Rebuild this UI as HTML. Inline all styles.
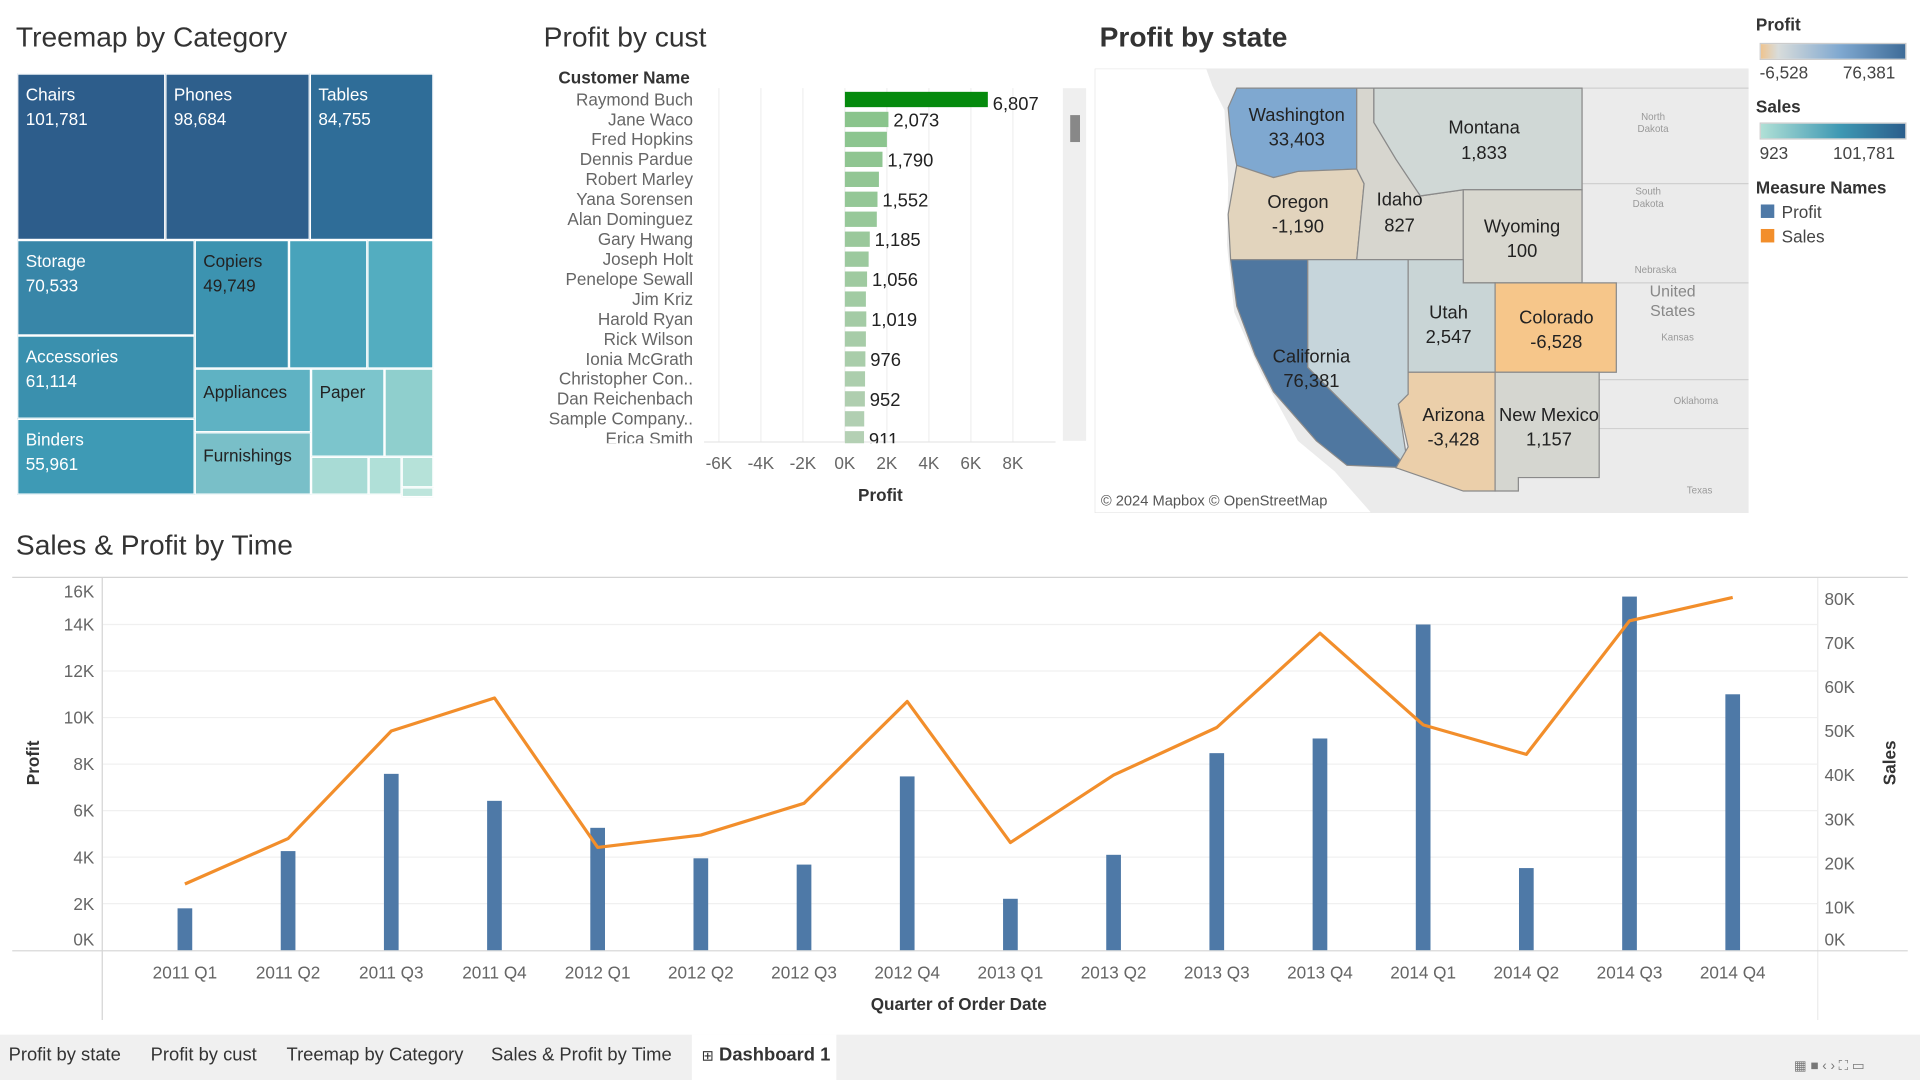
<!DOCTYPE html>
<html><head><meta charset="utf-8">
<style>
html,body{margin:0;padding:0;width:1920px;height:1080px;overflow:hidden;background:#fff}
#wrap{position:absolute;left:0;top:0;width:1568px;height:882px;transform:scale(1.22449);transform-origin:0 0;font-family:"Liberation Sans",sans-serif;color:#333}
.t{position:absolute;white-space:nowrap}
.title{font-size:23px;color:#333}
.tm{position:absolute;box-sizing:border-box;border:1px solid #fff;color:#fff;font-size:14px;line-height:20px;padding:6px 0 0 6px;overflow:hidden}
.tab{position:absolute;top:853px;font-size:15px;color:#333}
</style></head><body>
<div id="wrap">

<div class="t title" style="left:13px;top:17px">Treemap by Category</div>
<div>
<div class="tm" style="left:14px;top:60px;width:121px;height:136px;background:#2d5d8b">Chairs<br>101,781</div>
<div class="tm" style="left:135px;top:60px;width:118px;height:136px;background:#2e5f8c">Phones<br>98,684</div>
<div class="tm" style="left:253px;top:60px;width:101px;height:136px;background:#2f6d98">Tables<br>84,755</div>
<div class="tm" style="left:14px;top:196px;width:145px;height:78px;background:#3886a8">Storage<br>70,533</div>
<div class="tm" style="left:159px;top:196px;width:77px;height:105px;background:#3c93b0;color:#222"><span style="color:#222">Copiers<br>49,749</span></div>
<div class="tm" style="left:236px;top:196px;width:64px;height:105px;background:#48a3bb"></div>
<div class="tm" style="left:300px;top:196px;width:54px;height:105px;background:#53adc0"></div>
<div class="tm" style="left:14px;top:274px;width:145px;height:68px;background:#3a90ae">Accessories<br>61,114</div>
<div class="tm" style="left:14px;top:342px;width:145px;height:62px;background:#3e9ab5">Binders<br>55,961</div>
<div class="tm" style="left:159px;top:301px;width:95px;height:52px;background:#5fb2c3;color:#222;padding-top:8px">Appliances</div>
<div class="tm" style="left:254px;top:301px;width:60px;height:72px;background:#7cc5cc;color:#222;padding-top:8px">Paper</div>
<div class="tm" style="left:314px;top:301px;width:40px;height:72px;background:#8fcfcd"></div>
<div class="tm" style="left:159px;top:353px;width:95px;height:51px;background:#79bfc8;color:#222;padding-top:8px">Furnishings</div>
<div class="tm" style="left:254px;top:373px;width:47px;height:31px;background:#a8dbd5"></div>
<div class="tm" style="left:301px;top:373px;width:27px;height:31px;background:#b0e0d8"></div>
<div class="tm" style="left:328px;top:373px;width:26px;height:25px;background:#b6e2d9"></div>
<div class="tm" style="left:328px;top:398px;width:26px;height:6px;background:#bde5dc"></div>
</div>

<div class="t title" style="left:444px;top:17px">Profit by cust</div>
<div class="t" style="left:456px;top:55px;font-size:14px;font-weight:bold;color:#333">Customer Name</div>
<svg id="cust" style="position:absolute;left:0;top:0" width="900" height="420"></svg>

<div class="t title" style="left:898px;top:17px;font-weight:bold;color:#333">Profit by state</div>
<svg style="position:absolute;left:894px;top:56px" width="534" height="363" viewBox="894 56 534 363">
<rect x="894" y="56" width="534" height="363" fill="#fff" stroke="#e2e2e2"/>
<polygon points="985,56 1428,56 1428,419 1120,419 1090,385 1060,360 1030,305 1008,255 1002,200 1003,150 1000,90 990,70" fill="#ebebeb"/>
<line x1="1292" y1="72" x2="1292" y2="231" stroke="#d0d0d0"/><line x1="1292" y1="150" x2="1428" y2="150" stroke="#d0d0d0"/>
<line x1="1320" y1="231" x2="1428" y2="231" stroke="#d0d0d0"/><line x1="1306" y1="310" x2="1428" y2="310" stroke="#d0d0d0"/>
<line x1="1306" y1="350" x2="1428" y2="350" stroke="#d0d0d0"/><line x1="1292" y1="72" x2="1428" y2="72" stroke="#d0d0d0"/>
<text x="1350" y="98" font-size="8" fill="#999" text-anchor="middle">North</text><text x="1350" y="108" font-size="8" fill="#999" text-anchor="middle">Dakota</text>
<text x="1346" y="159" font-size="8" fill="#999" text-anchor="middle">South</text><text x="1346" y="169" font-size="8" fill="#999" text-anchor="middle">Dakota</text>
<text x="1352" y="223" font-size="8" fill="#999" text-anchor="middle">Nebraska</text><text x="1370" y="278" font-size="8" fill="#999" text-anchor="middle">Kansas</text>
<text x="1385" y="330" font-size="8" fill="#999" text-anchor="middle">Oklahoma</text><text x="1388" y="403" font-size="8" fill="#999" text-anchor="middle">Texas</text>
<text x="1366" y="242" font-size="13" fill="#888" text-anchor="middle">United</text><text x="1366" y="258" font-size="13" fill="#888" text-anchor="middle">States</text>
<g stroke="#8a8a8a" stroke-width="1" font-family="Liberation Sans" font-size="15">
<polygon points="1010,72 1108,72 1108,138 1060,140 1040,145 1010,135 1005,110 1003,88" fill="#7fa8d0"/>
<polygon points="1010,135 1040,145 1060,140 1108,138 1114,150 1108,212 1005,212 1003,175" fill="#e2d4bd"/>
<polygon points="1108,72 1122,72 1122,100 1140,130 1160,160 1195,155 1195,212 1108,212 1114,150 1108,138" fill="#d7d6cf"/>
<polygon points="1122,72 1292,72 1292,155 1195,155 1160,160 1140,130 1122,100" fill="#d0d8d6"/>
<polygon points="1195,155 1292,155 1292,231 1195,231" fill="#d8d7cf"/>
<polygon points="1005,212 1068,212 1068,300 1150,382 1100,380 1075,360 1040,320 1025,290 1010,250" fill="#4f77a0"/>
<polygon points="1068,212 1150,212 1150,322 1142,330 1150,382 1068,300" fill="#c6d5db"/>
<polygon points="1150,212 1195,212 1195,231 1221,231 1221,304 1150,304" fill="#c9d5d6"/>
<polygon points="1221,231 1320,231 1320,304 1221,304" fill="#f6c68a"/>
<polygon points="1150,304 1221,304 1221,401 1195,401 1140,382 1150,365 1142,330 1150,322" fill="#ebcfaa"/>
<polygon points="1221,304 1306,304 1306,390 1240,390 1240,401 1221,401" fill="#d5d6d0"/>
</g>
<g font-family="Liberation Sans" font-size="15" fill="#222" text-anchor="middle">
<text x="1059" y="99">Washington</text><text x="1059" y="119">33,403</text>
<text x="1212" y="109">Montana</text><text x="1212" y="130">1,833</text>
<text x="1060" y="170">Oregon</text><text x="1060" y="190">-1,190</text>
<text x="1143" y="168">Idaho</text><text x="1143" y="189">827</text>
<text x="1243" y="190">Wyoming</text><text x="1243" y="210">100</text>
<text x="1183" y="260">Utah</text><text x="1183" y="280">2,547</text>
<text x="1271" y="264">Colorado</text><text x="1271" y="284">-6,528</text>
<text x="1071" y="296">California</text><text x="1071" y="316">76,381</text>
<text x="1187" y="344">Arizona</text><text x="1187" y="364">-3,428</text>
<text x="1265" y="344">New Mexico</text><text x="1265" y="364">1,157</text>
</g>
<text x="899" y="413" font-family="Liberation Sans" font-size="12" fill="#555">© 2024 Mapbox © OpenStreetMap</text>
</svg>

<div>
<div class="t" style="left:1434px;top:12px;font-size:14px;font-weight:bold">Profit</div>
<div style="position:absolute;left:1437px;top:35px;width:118px;height:12px;background:linear-gradient(90deg,#efc48f,#d8dcdb 12%,#7fa8d0 55%,#3e6c98);border:1px solid #ccc"></div>
<div class="t" style="left:1437px;top:51px;font-size:14px;color:#444">-6,528</div>
<div class="t" style="left:1505px;top:51px;font-size:14px;color:#444">76,381</div>
<div class="t" style="left:1434px;top:79px;font-size:14px;font-weight:bold">Sales</div>
<div style="position:absolute;left:1437px;top:100px;width:118px;height:12px;background:linear-gradient(90deg,#b0e0d6,#3e98b3 55%,#2b5e8c);border:1px solid #ccc"></div>
<div class="t" style="left:1437px;top:117px;font-size:14px;color:#444">923</div>
<div class="t" style="left:1497px;top:117px;font-size:14px;color:#444">101,781</div>
<div class="t" style="left:1434px;top:145px;font-size:14px;font-weight:bold;width:122px;overflow:hidden">Measure Names</div>
<div style="position:absolute;left:1438px;top:167px;width:11px;height:11px;background:#4e79a7"></div>
<div class="t" style="left:1455px;top:165px;font-size:14px;color:#444">Profit</div>
<div style="position:absolute;left:1438px;top:187px;width:11px;height:11px;background:#f28e2b"></div>
<div class="t" style="left:1455px;top:185px;font-size:14px;color:#444">Sales</div>
</div>

<div class="t title" style="left:13px;top:432px">Sales &amp; Profit by Time</div>
<svg id="time" style="position:absolute;left:0;top:0" width="1568" height="845"></svg>

<div style="position:absolute;left:0;top:845px;width:1568px;height:37px;background:#f0f0f0"></div>
<div class="tab" style="left:7px">Profit by state</div>
<div class="tab" style="left:123px">Profit by cust</div>
<div class="tab" style="left:234px">Treemap by Category</div>
<div class="tab" style="left:401px">Sales &amp; Profit by Time</div>
<div style="position:absolute;left:565px;top:845px;width:118px;height:37px;background:#fff"></div>
<div class="tab" style="left:573px;font-weight:bold"><span style="font-weight:normal;font-size:12px">⊞</span> Dashboard 1</div>
<div class="t" style="left:1465px;top:864px;font-size:11px;color:#777">▦ ■ ‹ › ⛶ ▭</div>
</div>

<script>
const NS="http://www.w3.org/2000/svg";
function mk(p,tag,attrs){const e=document.createElementNS(NS,tag);for(const k in attrs)e.setAttribute(k,attrs[k]);p.appendChild(e);return e;}

const custNames=["Raymond Buch","Jane Waco","Fred Hopkins","Dennis Pardue","Robert Marley","Yana Sorensen","Alan Dominguez","Gary Hwang","Joseph Holt","Penelope Sewall","Jim Kriz","Harold Ryan","Rick Wilson","Ionia McGrath","Christopher Con..","Dan Reichenbach","Sample Company..","Erica Smith"];
const custProfit=[6807,2073,2000,1790,1620,1552,1520,1185,1130,1056,1000,1019,1000,976,960,952,920,911];
const custTicks=[-6000,-4000,-2000,0,2000,4000,6000,8000];
const custTickLabels=["-6K","-4K","-2K","0K","2K","4K","6K","8K"];

(function(){
 const s=document.getElementById('cust');
 const x=v=>690+v*0.01715, rowY=i=>81+i*16.3;
 const clip=mk(s,'clipPath',{id:'cc'});mk(clip,'rect',{x:430,y:70,width:440,height:292});
 custTicks.forEach((t,i)=>{
  const l=mk(s,'line',{x1:x(t),x2:x(t),y1:72,y2:361,stroke:'#efefef'});
  
  
  const tx=mk(s,'text',{x:x(t),y:383,'text-anchor':'middle','font-size':14,fill:'#666'});tx.textContent=custTickLabels[i];
  
  
 });
 mk(s,'line',{x1:575,x2:862,y1:361,y2:361,stroke:'#e6e6e6'});
 const g=mk(s,'g',{'clip-path':'url(#cc)'});
 custNames.forEach((n,i)=>{
  const y=rowY(i);
  const t=mk(g,'text',{x:566,y:y+5,'text-anchor':'end','font-size':14,fill:'#666'});t.textContent=n;
  
  
  const v=custProfit[i];
  const frac=Math.min(1,i/17);
  const col=i===0?'#058a0d':`rgb(${Math.round(135+45*frac)},${Math.round(195+13*frac)},${Math.round(138+42*frac)})`;
  const r=mk(g,'rect',{x:Math.min(x(0),x(v)),y:y-6,width:Math.abs(x(v)-x(0)),height:12.5,fill:col});
  
  
  if(i===0||i%2===1){
   const lb=mk(g,'text',{x:x(v)+4,y:y+(i===0?9:6),'font-size':15,fill:'#222'});lb.textContent=v.toLocaleString('en-US');
   
   
  }
 });
 const sb=mk(s,'rect',{x:868,y:72,width:19,height:288,fill:'#efefef'});
 
 
 const th=mk(s,'rect',{x:874,y:94,width:8,height:22,fill:'#888'});
 
 
 const at=mk(s,'text',{x:719,y:409,'text-anchor':'middle','font-size':14,'font-weight':'bold',fill:'#333'});at.textContent='Profit';
 
 
})();

const quarters=["2011 Q1","2011 Q2","2011 Q3","2011 Q4","2012 Q1","2012 Q2","2012 Q3","2012 Q4","2013 Q1","2013 Q2","2013 Q3","2013 Q4","2014 Q1","2014 Q2","2014 Q3","2014 Q4"];
const profitVals=[1800,4260,7580,6420,5260,3950,3680,7470,2210,4100,8470,9100,14000,3530,15200,11000];
const salesVals=[15300,25600,50000,57500,23600,26400,33600,56700,24700,40000,50800,72200,51400,44700,75000,80300];
const profitTicks=[0,2000,4000,6000,8000,10000,12000,14000,16000];
const profitTickLabels=["0K","2K","4K","6K","8K","10K","12K","14K","16K"];
const salesTicks=[0,10000,20000,30000,40000,50000,60000,70000,80000];
const salesTickLabels=["0K","10K","20K","30K","40K","50K","60K","70K","80K"];

(function(){
 const s=document.getElementById('time');
 const x=i=>151+i*84.27;
 const yP=v=>776-v*0.019;
 const yS=v=>777-v*0.0036;
 mk(s,'line',{x1:10,x2:1558,y1:471.5,y2:471.5,stroke:'#d4d4d4'});
 profitTicks.forEach((t,i)=>{
  if(t>0&&t<16000){const gl=mk(s,'line',{x1:84,x2:1484,y1:yP(t),y2:yP(t),stroke:'#f0f0f0'});
   
   }
  const ty=Math.min(Math.max(yP(t)+5,488),772);
  const tx=mk(s,'text',{x:77,y:ty,'text-anchor':'end','font-size':14,fill:'#666'});tx.textContent=profitTickLabels[i];
  
  
 });
 salesTicks.forEach((t,i)=>{
  const ty=Math.min(yS(t)+5,772);
  const tx=mk(s,'text',{x:1490,y:ty,'font-size':14,fill:'#666'});tx.textContent=salesTickLabels[i];
  
  
 });
 mk(s,'line',{x1:83.5,x2:83.5,y1:472,y2:833,stroke:'#d4d4d4'});
 mk(s,'line',{x1:1484.5,x2:1484.5,y1:472,y2:833,stroke:'#ececec'});
 mk(s,'line',{x1:10,x2:1558,y1:776.5,y2:776.5,stroke:'#d4d4d4'});
 quarters.forEach((q,i)=>{
  const b=mk(s,'rect',{x:x(i)-6,y:yP(profitVals[i]),width:12,height:776-yP(profitVals[i]),fill:'#4e79a7'});
  
  
  const t=mk(s,'text',{x:x(i),y:799,'text-anchor':'middle','font-size':14,fill:'#666'});t.textContent=q;
  
  
 });
 const pl=mk(s,'polyline',{points:salesVals.map((v,i)=>x(i)+','+yS(v)).join(' '),fill:'none',stroke:'#f28e2b','stroke-width':2.6,'stroke-linejoin':'round'});
 
 
 const a1=mk(s,'text',{transform:'translate(32,623) rotate(-90)','text-anchor':'middle','font-size':14,'font-weight':'bold',fill:'#333'});a1.textContent='Profit';
 
 
 const a2=mk(s,'text',{transform:'translate(1548,623) rotate(-90)','text-anchor':'middle','font-size':14,'font-weight':'bold',fill:'#333'});a2.textContent='Sales';
 
 
 const a3=mk(s,'text',{x:783,y:825,'text-anchor':'middle','font-size':14,'font-weight':'bold',fill:'#333'});a3.textContent='Quarter of Order Date';
 
 
})();
</script>
</body></html>
